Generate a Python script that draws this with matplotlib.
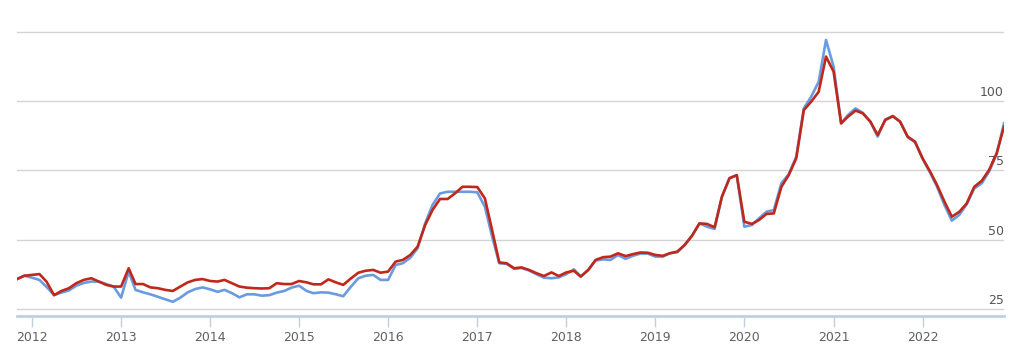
# Two monthly series, Nov 2011 - Dec 2022.

import matplotlib
matplotlib.use('Agg')
import matplotlib.pyplot as plt
import matplotlib.dates as mdates
import pandas as pd

# Data.

months = pd.date_range('2011-11-01', periods=134, freq='MS')

blue = [35.8, 37,
        36.3, 35.5, 33, 30, 30.9, 31.7, 33.4, 34.4, 34.9, 34.9, 34, 33.1,
        29.1, 38.5, 31.9, 31, 30.3, 29.4, 28.5, 27.6, 29.1, 31, 32.2, 32.8,
        32.1, 31.2, 31.9, 30.7, 29.2, 30.3, 30.3, 29.8, 30, 30.9, 31.5, 32.7,
        33.4, 31.5, 30.7, 31, 30.9, 30.3, 29.6, 33, 36.1, 37, 37.3, 35.5,
        35.5, 40.9, 41.5, 43.5, 46.9, 55.9, 62.5, 66.7, 67.3, 67.3, 67.3, 67.3,
        67.1, 61.9, 51.7, 41.5, 41.3, 39.5, 39.8, 38.9, 37.5, 36.3, 36.1, 36.4,
        37.6, 39.3, 36.7, 39.1, 42.5, 42.9, 42.7, 44.5, 43.1, 44.2, 45, 45,
        43.9, 43.9, 45.1, 45.5, 48, 51.5, 55.9, 54.7, 53.9, 65.5, 72.2, 73.3,
        54.7, 55.3, 57.7, 60.1, 60.7, 70.4, 73.6, 80, 97.4, 101.6, 107, 122.1,
        112.5, 92, 95, 97.4, 95.8, 92.6, 87.2, 93.4, 94.6, 92.6, 87, 85.2,
        79.2, 74.2, 69.2, 62.5, 56.9, 59, 62.8, 68.5, 70.4, 74.6, 81, 92]

red = [35.8, 37,
       37.3, 37.6, 34.9, 30, 31.5, 32.5, 34.3, 35.5, 36.1, 34.9, 33.7, 33.1,
       33.1, 39.7, 34, 34, 32.8, 32.5, 31.9, 31.5, 33.1, 34.6, 35.5, 35.8,
       35.1, 34.9, 35.5, 34.3, 33.1, 32.7, 32.5, 32.4, 32.5, 34.3, 34, 34,
       35.1, 34.6, 33.9, 33.9, 35.7, 34.6, 33.7, 36, 38.1, 38.8, 39.1, 38.1,
       38.5, 42.1, 42.7, 44.5, 47.5, 55.3, 60.7, 64.7, 64.7, 66.7, 69.1, 69.1,
       69, 64.9, 54.1, 41.8, 41.5, 39.7, 40, 39.1, 37.9, 36.9, 38.2, 36.9,
       38.2, 38.8, 36.7, 39.1, 42.7, 43.7, 43.9, 45.1, 44.1, 44.8, 45.4, 45.3,
       44.5, 44.2, 45.1, 45.7, 48.1, 51.5, 55.9, 55.7, 54.5, 65.5, 72.2, 73.3,
       56.5, 55.7, 57.1, 59.3, 59.5, 69.1, 73.3, 79.4, 96.8, 99.8, 103.4, 116.1,
       110.7, 92, 94.4, 96.6, 95.6, 92.6, 87.8, 93.2, 94.6, 92.6, 87.2, 85.4,
       79.4, 74.6, 69.8, 63.7, 58.3, 60.1, 63.1, 69.1, 71.3, 75.2, 81.2, 90.8]

grid_values = [25, 50, 75, 100, 125]
labelled = [25, 50, 75, 100]

# Figure setup.

fig = plt.figure(figsize=(10.24, 3.61), dpi=100)
ax = fig.add_axes([17 / 1024, 45 / 361, 987 / 1024, 296 / 361])

ax.plot(months, blue, color='#6a9be0', lw=1.9, zorder=3)
ax.plot(months, red, color='#c0281c', lw=1.9, zorder=4)

ax.set_xlim(months[0], months[-1])
ax.set_ylim(22.47, 129.3)

# Gridlines and right-hand labels.

for v in grid_values:
    ax.axhline(v, color='#d4d4d4', lw=1, zorder=1)
for v in labelled:
    ax.text(1.0, v + 0.8, str(v), transform=ax.get_yaxis_transform(),
            ha='right', va='bottom', fontsize=9, color='#555555')

ax.set_yticks([])
for side in ['left', 'right', 'top']:
    ax.spines[side].set_visible(False)
ax.spines['bottom'].set_color('#c0d0e0')
ax.spines['bottom'].set_linewidth(2)

ax.xaxis.set_major_locator(mdates.YearLocator())
ax.xaxis.set_major_formatter(mdates.DateFormatter('%Y'))
ax.tick_params(axis='x', length=8, width=1, color='#c0d0e0',
               labelsize=9, labelcolor='#606060', pad=3)

fig.savefig('out.png', dpi=100)
